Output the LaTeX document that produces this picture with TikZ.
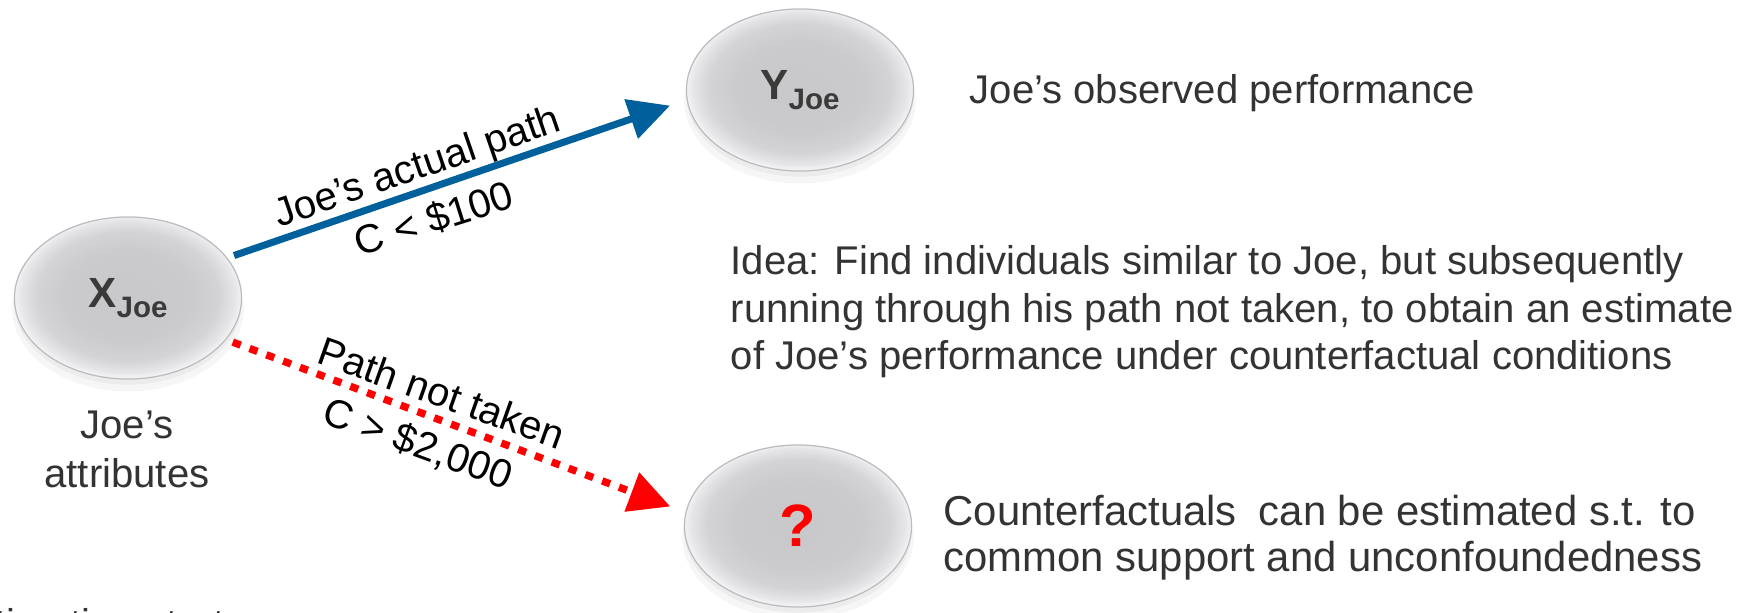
\documentclass[tikz,border=0pt]{standalone}
\usepackage{fontspec}
\setmainfont{Liberation Sans}
\usetikzlibrary{shapes.geometric,arrows.meta,shadows}
\definecolor{txtgray}{RGB}{51,51,51}
\definecolor{blobtxt}{RGB}{58,58,58}
\definecolor{pathblue}{RGB}{0,96,156}
\definecolor{blobedge}{RGB}{188,188,191}
\definecolor{pathred}{RGB}{255,0,0}
\pgfdeclareradialshading{blobshade}{\pgfpoint{0bp}{1bp}}{rgb(0bp)=(0.785,0.785,0.795); rgb(14bp)=(0.795,0.795,0.805); rgb(20bp)=(0.83,0.83,0.84); rgb(23.5bp)=(0.90,0.90,0.91); rgb(25bp)=(0.95,0.95,0.96); rgb(50bp)=(0.95,0.95,0.96)}
\newcommand\blobtext[1]{{\color{blobtxt}\fontsize{12}{14}\selectfont\bfseries #1\raisebox{-2.7pt}{\fontsize{8.4}{9}\selectfont Joe}}}
\begin{document}
\begin{tikzpicture}[x=0.01cm,y=-0.01cm,
  blob/.style={ellipse, minimum width=2.27cm, minimum height=1.62cm, inner sep=0pt,
    shading=blobshade, draw=blobedge, line width=0.35pt,
    drop shadow={opacity=0.07, shadow xshift=0pt, shadow yshift=-3pt, shadow scale=1.02},
    drop shadow={opacity=0.09, shadow xshift=0pt, shadow yshift=-1.6pt}},
  body/.style={font=\fontsize{11.4}{13.7}\selectfont, text=txtgray, inner sep=0pt, anchor=base west},
  bigbody/.style={body, font=\fontsize{11.9}{14}\selectfont},
  lbl/.style={font=\fontsize{11.4}{13.7}\selectfont, text=black},
  bluearrow/.style={draw=pathblue, line width=2pt, -{Triangle[length=11.7pt,width=11.4pt]}},
  redarrow/.style={draw=pathred, line width=2.1pt, dash pattern=on 2.4pt off 2.7pt, -{Triangle[length=11.7pt,width=11.4pt]}}
]
\useasboundingbox (0,0) rectangle (1740,613);
\clip (0,0) rectangle (1740,613);

\node[blob] (X) at (128,298) {\blobtext{X}};
\node[blob] (Y) at (800,90) {\blobtext{Y}};
\node[blob] (Q) at (798,526) {\fontsize{17}{20}\selectfont\bfseries\color{pathred}?};

\draw[bluearrow, shorten <=2pt, shorten >=5pt] (X.22) -- (Y.185)
  node[pos=0.43, sloped, above, lbl, inner sep=0pt] (lab1) {Joe’s actual path}
  node[pos=0.43, sloped, below, lbl, inner sep=3pt, rotate=-1.5] (lab2) {C < \$100};
\draw[redarrow, shorten <=2pt, shorten >=4.6pt] (X.-23) -- (Q.173)
  node[pos=0.45, sloped, above, lbl, inner sep=2.2pt, rotate=1] (lab3) {Path not taken}
  node[pos=0.44, sloped, below, lbl, inner sep=2.8pt, rotate=0.5] (lab4) {C > \$2,000};

\node[body, anchor=base] (attr1) at (127,439) {Joe’s};
\node[body, anchor=base] (attr2) at (127,488) {attributes};

\node[body] (obs) at (969,103.5) {Joe’s observed performance};

\node[body] (idea1) at (730,275) {Idea: Find individuals similar to Joe, but subsequently};
\node[body] (idea2) at (730,323) {running through his path not taken, to obtain an estimate};
\node[body] (idea3) at (730,370) {of Joe’s performance under counterfactual conditions};

\node[bigbody] (cf1) at (943,525) {Counterfactuals\hspace{0.25em} can be estimated s.t. to};
\node[bigbody] (cf2) at (943,571) {common support and unconfoundedness};

\node[body] (cut) at (-48,637) {estimation strategy};
\end{tikzpicture}
\end{document}
